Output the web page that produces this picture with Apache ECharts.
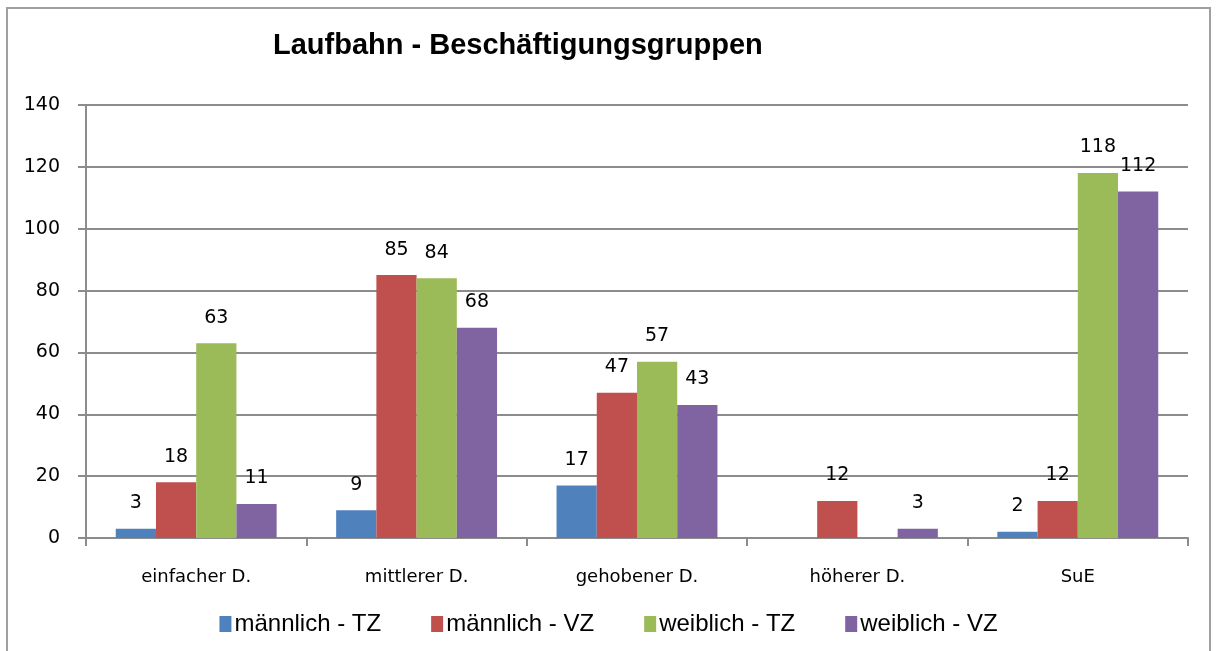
<!DOCTYPE html>
<html>
<head>
<meta charset="utf-8">
<script src="https://cdn.jsdelivr.net/npm/echarts@6/dist/echarts.min.js"></script>
<style>
  html, body { margin: 0; padding: 0; background: #fff; }
  #main { width: 1217px; height: 651px; }
</style>
</head>
<body>
<div id="main"></div>
<script>
var categories = ["einfacher D.", "mittlerer D.", "gehobener D.", "höherer D.", "SuE"];
var maennlichTZ = [3, 9, 17, null, 2];
var maennlichVZ = [18, 85, 47, 12, 12];
var weiblichTZ = [63, 84, 57, null, 118];
var weiblichVZ = [11, 68, 43, 3, 112];
var yTicks = [0, 20, 40, 60, 80, 100, 120, 140];

var chart = echarts.init(document.getElementById("main"));

function barSeries(name, data, color) {
  return {
    name: name,
    type: "bar",
    data: data,
    barGap: 0,
    barCategoryGap: "27%",
    itemStyle: { color: color },
    label: {
      show: true,
      position: "top",
      distance: 16,
      color: "#000",
      fontFamily: "DejaVu Sans",
      fontSize: 19,
    },
  };
}

var option = {
  animation: false,
  title: {
    text: "Laufbahn - Beschäftigungsgruppen",
    left: 268,
    top: 26,
    textStyle: {
      fontFamily: "Liberation Sans",
      fontWeight: "bold",
      fontSize: 29,
      color: "#000",
    },
  },
  graphic: [
    {
      type: "rect",
      shape: { x: 7, y: 8, width: 1203, height: 700 },
      style: { fill: "none", stroke: "#a0a0a0", lineWidth: 2 },
      silent: true,
    },
  ],
  legend: {
    bottom: 10,
    left: "center",
    itemWidth: 12,
    itemHeight: 16,
    itemGap: 50,
    icon: "rect",
    textStyle: {
      fontFamily: "Liberation Sans",
      fontSize: 24,
      color: "#000",
      padding: [0, 0, 0, -2],
    },
  },
  grid: {
    left: 86,
    right: 29,
    top: 105,
    bottom: 113,
  },
  xAxis: {
    type: "category",
    data: categories,
    axisLine: { lineStyle: { color: "#8c8c8c", width: 2 } },
    axisTick: { show: true, length: 8, lineStyle: { color: "#8c8c8c", width: 2 } },
    axisLabel: {
      margin: 30,
      color: "#000",
      fontFamily: "DejaVu Sans",
      fontSize: 18,
    },
  },
  yAxis: {
    type: "value",
    min: yTicks[0],
    max: yTicks[yTicks.length - 1],
    interval: 20,
    axisLine: { show: true, lineStyle: { color: "#8c8c8c", width: 2 } },
    axisTick: { show: true, length: 8, lineStyle: { color: "#8c8c8c", width: 2 } },
    axisLabel: {
      margin: 26,
      color: "#000",
      fontFamily: "DejaVu Sans",
      fontSize: 19,
    },
    splitLine: { show: true, lineStyle: { color: "#8c8c8c", width: 2 } },
  },
  series: [
    barSeries("männlich - TZ", maennlichTZ, "#4f81bd"),
    barSeries("männlich - VZ", maennlichVZ, "#c0504d"),
    barSeries("weiblich - TZ", weiblichTZ, "#9bbb59"),
    barSeries("weiblich - VZ", weiblichVZ, "#8064a2"),
  ],
};
chart.setOption(option);
</script>
</body>
</html>
